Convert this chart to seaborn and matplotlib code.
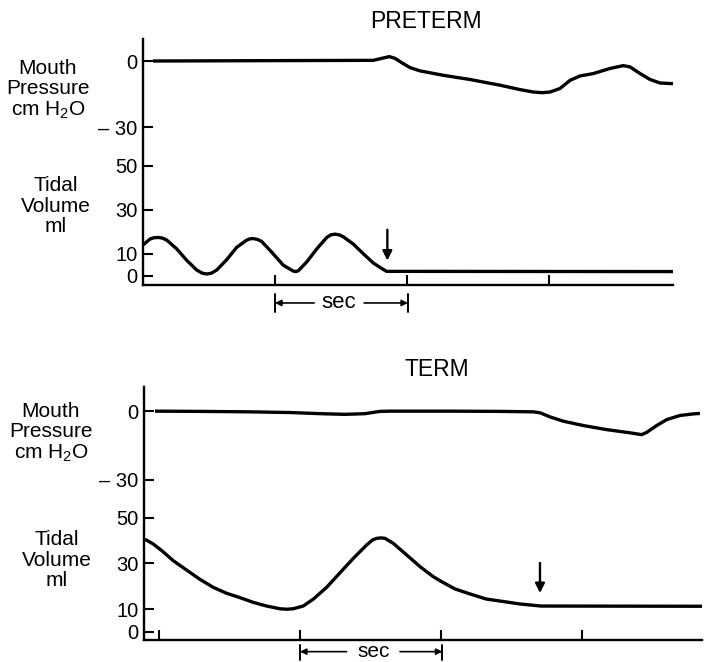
"""
Mouth pressure and tidal volume traces, preterm vs term infant.
Two stacked panels, each with one shared time axis and a split y scale
(pressure trace on top, tidal volume trace below).
"""
import numpy as np
import pandas as pd
import matplotlib
matplotlib.use("Agg")
import matplotlib.pyplot as plt
import seaborn as sns

# ── data ──────────────────────────────────────────────────────────────────────

# PRETERM, time in seconds
pre_vol_t = [0.024, 0.074, 0.105, 0.136, 0.167, 0.198, 0.272, 0.346, 0.420,
             0.460, 0.494, 0.530, 0.568, 0.642, 0.716, 0.790, 0.815, 0.839,
             0.870, 0.901, 0.976, 1.061, 1.136, 1.155, 1.173, 1.235, 1.309,
             1.383, 1.414, 1.444, 1.475, 1.506, 1.580, 1.654, 1.728, 1.790,
             1.827, 3.948]
pre_vol_ml = [14.2, 16.8, 17.4, 17.5, 17.2, 16.3, 12.3, 7.1, 2.7,
              1.3, 0.9, 1.3, 2.7, 7.4, 13.0, 16.3, 16.9, 17.0,
              16.6, 15.7, 10.8, 4.9, 2.2, 2.0, 2.4, 6.4, 12.3,
              17.5, 18.7, 19.0, 18.7, 17.8, 14.5, 10.1, 5.9, 3.4,
              2.1, 2.0]

pre_prs_t = [0.096, 1.728, 1.790, 1.847, 1.889, 1.939, 2.000, 2.074, 2.247,
             2.444, 2.667, 2.815, 2.913, 2.980, 3.037, 3.111, 3.185, 3.259,
             3.358, 3.481, 3.580, 3.630, 3.704, 3.778, 3.852, 3.948]
pre_prs_cm = [0.0, 0.3, 1.2, 2.0, 1.2, -0.8, -3.0, -4.5, -6.5,
              -8.4, -11.0, -13.0, -14.1, -14.4, -14.1, -12.5, -8.8, -6.8,
              -5.7, -3.4, -2.1, -2.7, -5.7, -8.4, -10.0, -10.3]

pre_xticks = [1.0, 1.98, 3.03]
pre_arrow_t = 1.832

# TERM, time in seconds
term_vol_t = [-0.099, -0.040, 0.030, 0.101, 0.196, 0.291, 0.385, 0.480, 0.574,
              0.669, 0.764, 0.858, 0.905, 0.952, 1.023, 1.094, 1.189, 1.284,
              1.378, 1.473, 1.515, 1.544, 1.575, 1.603, 1.662, 1.757, 1.851,
              1.945, 1.993, 2.099, 2.206, 2.319, 2.418, 2.560, 2.709, 3.851]
term_vol_ml = [40.6, 38.5, 35.1, 31.2, 27.1, 23.0, 19.5, 16.9, 15.0,
               12.9, 11.3, 10.1, 9.9, 10.1, 11.3, 14.3, 19.5, 25.9,
               32.2, 38.1, 40.3, 41.0, 41.2, 41.0, 38.8, 33.7, 28.6,
               24.2, 22.4, 18.8, 16.6, 14.4, 13.5, 12.2, 11.3, 11.2]

term_prs_t = [-0.028, 0.291, 0.645, 0.929, 1.142, 1.319, 1.461, 1.567, 1.638,
              2.064, 2.418, 2.655, 2.702, 2.773, 2.867, 3.009, 3.175, 3.340,
              3.423, 3.459, 3.530, 3.601, 3.695, 3.789, 3.837]
term_prs_cm = [0.0, -0.1, -0.3, -0.6, -1.1, -1.4, -1.1, -0.1, 0.0,
               0.0, -0.1, -0.3, -0.7, -2.5, -4.4, -6.3, -8.1, -9.5,
               -10.3, -9.3, -6.3, -3.7, -1.9, -1.2, -1.0]

term_xticks = [0.0, 1.0, 2.0, 3.0]
term_arrow_t = 2.702

vol_ticks = [50, 30, 10, 0]
prs_ticks = [0, -30]
prs_ticklabels = ["0", "\u2013 30"]

# ── style ─────────────────────────────────────────────────────────────────────

W, H = 712, 662
sns.set_theme(style="ticks")
plt.rcParams["font.family"] = ["Liberation Sans", "DejaVu Sans"]
plt.rcParams["mathtext.default"] = "regular"
plt.rcParams["text.color"] = "black"
FS = 15
LW = 2.4


def fx(px):
    return px / W


def fy(py):
    return 1 - py / H


def draw_panel(ax, vol_t, vol, prs_t, prs, prs_off, xticks, xlim, ylim,
               arrow_t, arrow_v, sec, sec_y, sec_fs):
    df_v = pd.DataFrame({"t": vol_t, "y": vol})
    df_p = pd.DataFrame({"t": prs_t, "y": np.array(prs) + prs_off})
    for df in (df_v, df_p):
        sns.lineplot(data=df, x="t", y="y", ax=ax, color="black", lw=LW,
                     estimator=None, solid_joinstyle="round",
                     solid_capstyle="butt")

    ax.set_xlim(*xlim)
    ax.set_ylim(*ylim)
    ax.set_xlabel("")
    ax.set_ylabel("")
    ax.set_xticks(xticks)
    ax.set_xticklabels([])
    ax.set_yticks([prs_off + p for p in prs_ticks] + vol_ticks)
    ax.set_yticklabels(prs_ticklabels + [str(v) for v in vol_ticks])
    ax.tick_params(axis="both", direction="in", length=7, width=1.5,
                   color="black", labelsize=FS - 0.5, pad=4,
                   labelcolor="black")
    for s in ("top", "right"):
        ax.spines[s].set_visible(False)
    for s in ("left", "bottom"):
        ax.spines[s].set_linewidth(1.7)
        ax.spines[s].set_color("black")

    # cessation marker
    ax.annotate("", xy=(arrow_t, arrow_v[1]), xytext=(arrow_t, arrow_v[0]),
                arrowprops=dict(arrowstyle="-|>", color="black", lw=1.7,
                                mutation_scale=14, shrinkA=0, shrinkB=0))

    # one-second scale bar below the axis
    t0, t1, tl, tc, tr = sec
    yb, ylo, yhi = sec_y
    tr_ = ax.get_xaxis_transform()
    for t in (t0, t1):
        ax.plot([t, t], [ylo, yhi], color="black", lw=1.4, transform=tr_,
                clip_on=False)
    for a, b in ((tl, t0), (tr, t1)):
        ax.annotate("", xy=(b, yb), xytext=(a, yb),
                    xycoords=("data", "axes fraction"),
                    textcoords=("data", "axes fraction"),
                    arrowprops=dict(arrowstyle="-|>", color="black", lw=1.2,
                                    mutation_scale=9, shrinkA=0, shrinkB=0))
    ax.text(tc, yb, "sec", transform=tr_, ha="center", va="center",
            fontsize=sec_fs)


fig = plt.figure(figsize=(W / 100, H / 100), dpi=100)

# PRETERM
ax1 = fig.add_axes([fx(143), fy(285), fx(673 - 143), (285 - 39) / H])
draw_panel(ax1, pre_vol_t, pre_vol_ml, pre_prs_t, pre_prs_cm, 97.7,
           pre_xticks, (0.022, 3.948), (-4.1, 107.7),
           pre_arrow_t, (21.0, 7.0),
           (1.0, 1.985, 1.29, 1.474, 1.66), (-0.073, -0.037, -0.11), FS + 1)

# TERM
ax2 = fig.add_axes([fx(144), fy(640), fx(702 - 144), (640 - 387) / H])
draw_panel(ax2, term_vol_t, term_vol_ml, term_prs_t, term_prs_cm, 96.8,
           term_xticks, (-0.106, 3.851), (-3.6, 107.4),
           term_arrow_t, (30.2, 17.0),
           (1.0, 2.01, 1.33, 1.52, 1.71), (-0.046, -0.02, -0.08), FS)

fig.text(fx(426), fy(22), "PRETERM", ha="center", va="center", fontsize=FS + 1.5)
fig.text(fx(437), fy(369), "TERM", ha="center", va="center", fontsize=FS + 1.5)

for cx, cy, txt in ((48, 90, "Mouth\nPressure\ncm H$_2$O"),
                    (56, 206, "Tidal\nVolume\nml"),
                    (51, 433, "Mouth\nPressure\ncm H$_2$O"),
                    (57, 560, "Tidal\nVolume\nml")):
    fig.text(fx(cx), fy(cy), txt, ha="center", va="center", fontsize=FS,
             linespacing=1.1)

fig.savefig("out.png", dpi=100)
